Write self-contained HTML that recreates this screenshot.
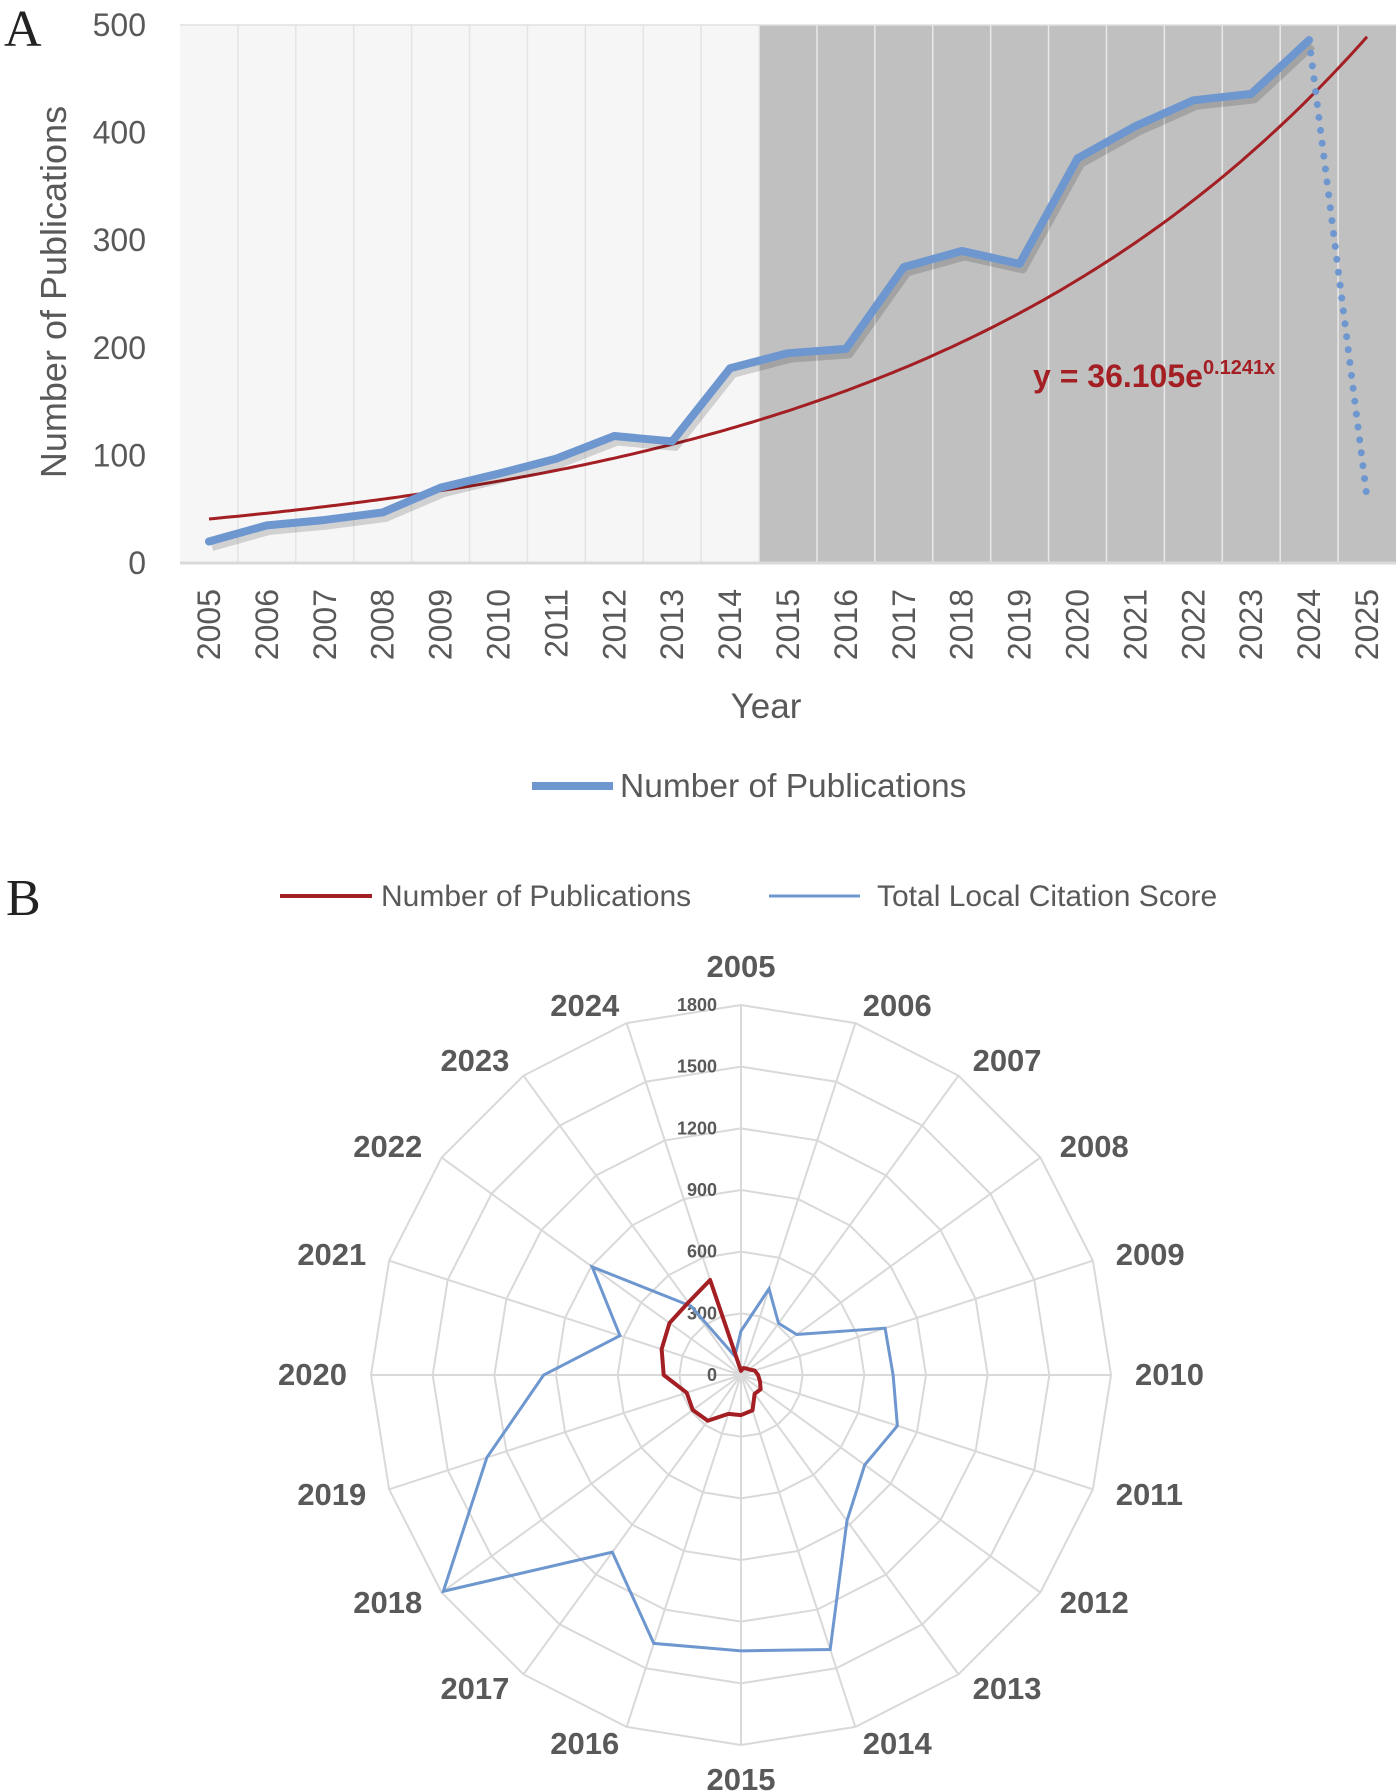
<!DOCTYPE html>
<html><head><meta charset="utf-8"><style>
body{margin:0;background:#fff;}
svg{display:block;font-family:"Liberation Sans",sans-serif;}
</style></head><body>
<svg id="s" width="1399" height="1792" viewBox="0 0 1399 1792" xmlns="http://www.w3.org/2000/svg">
<text x="4" y="46" font-family="Liberation Serif" font-size="52" fill="#222">A</text>
<text x="6" y="915" font-family="Liberation Serif" font-size="52" fill="#222">B</text>
<g id="a"></g><g id="b"></g>
</svg>
<script>
const years=["2005","2006","2007","2008","2009","2010","2011","2012","2013","2014","2015","2016","2017","2018","2019","2020","2021","2022","2023","2024","2025"];
const pubs=[20,35,40,47,70,83,97,118,113,181,195,199,275,290,278,376,406,430,436,486];
const forecast2025=60;
const yTicks=[0,100,200,300,400,500];
const trendA=36.105, trendB=0.1241;
const radarYears=["2005","2006","2007","2008","2009","2010","2011","2012","2013","2014","2015","2016","2017","2018","2019","2020","2021","2022","2023","2024"];
const tlcs=[214,441,311,335,737,740,800,744,877,1404,1342,1373,1065,1790,1300,960,619,895,414,96];
const rTicks=[0,300,600,900,1200,1500,1800];
const NS="http://www.w3.org/2000/svg";
function mk(p,t,a,txt){const e=document.createElementNS(NS,t);for(const k in a)e.setAttribute(k,a[k]);if(txt!==undefined)e.textContent=txt;p.appendChild(e);return e;}
// Chart A
const A=document.getElementById('a');
const L=180,R=1396,T=25,B=563,n=years.length,cw=(R-L)/n;
const xA=i=>L+cw*(i+0.5), yA=v=>B-(v/500)*(B-T);
let e=mk(A,'rect',{x:L,y:T,width:cw*10,height:B-T,fill:'#f7f6f7'});

e=mk(A,'rect',{x:L+cw*10,y:T,width:R-(L+cw*10),height:B-T,fill:'#c0c0c0'});

for(let i=1;i<n;i++){e=mk(A,'line',{x1:L+cw*i,x2:L+cw*i,y1:T,y2:B,stroke:i<10?'#e4e4e4':'#e8e8e8','stroke-width':1.5});
}
e=mk(A,'line',{x1:L,x2:R,y1:T,y2:T,stroke:'#e0e0e0','stroke-width':1.5});

e=mk(A,'line',{x1:L,x2:R,y1:B,y2:B,stroke:'#d9d9d9','stroke-width':3});

yTicks.forEach(v=>{e=mk(A,'text',{x:146,y:yA(v)+11,'text-anchor':'end','font-size':32,fill:'#595959'},String(v));
});
years.forEach((y,i)=>{e=mk(A,'text',{x:0,y:0,transform:`translate(${xA(i)+11},589) rotate(-90)`,'text-anchor':'end','font-size':32,fill:'#595959'},y);
});
e=mk(A,'text',{x:0,y:0,transform:'translate(66,292) rotate(-90)','text-anchor':'middle','font-size':36,fill:'#595959'},'Number of Publications');

e=mk(A,'text',{x:766,y:718,'text-anchor':'middle','font-size':35,fill:'#595959'},'Year');

let tp='';for(let k=0;k<=200;k++){const xx=1+k*(n-1)/200;const px=xA(xx-1);tp+=(k?'L':'M')+px.toFixed(1)+','+yA(trendA*Math.exp(trendB*xx)).toFixed(1);}
e=mk(A,'path',{d:tp,fill:'none',stroke:'#a31f24','stroke-width':3});

e=mk(A,'polyline',{points:pubs.map((v,i)=>(xA(i)+3)+','+(yA(v)+5)).join(' '),fill:'none',stroke:'rgba(0,0,0,0.15)','stroke-width':9,'stroke-linejoin':'round'});

e=mk(A,'polyline',{points:pubs.map((v,i)=>xA(i)+','+yA(v)).join(' '),fill:'none',stroke:'#6e97cf','stroke-width':8,'stroke-linejoin':'round','stroke-linecap':'round'});

const li=pubs.length-1;
e=mk(A,'line',{x1:xA(li),y1:yA(pubs[li]),x2:xA(li+1),y2:yA(forecast2025),stroke:'#6e97cf','stroke-width':7,'stroke-dasharray':'0 13','stroke-linecap':'round'});

e=mk(A,'text',{x:1033,y:387,'font-size':32,'font-weight':'bold',fill:'#a31f24'});

e.innerHTML='y = 36.105e<tspan font-size="20" dy="-13">0.1241x</tspan>';
e=mk(A,'line',{x1:532,x2:613,y1:786,y2:786,stroke:'#6e97cf','stroke-width':8});

e=mk(A,'text',{x:620,y:797,'font-size':33.5,fill:'#595959'},'Number of Publications');

// Chart B
const Bg=document.getElementById('b');
const cx=741,cy=1375,Rr=370,m=radarYears.length;
const ang=i=>-Math.PI/2+2*Math.PI*i/m;
const rr=v=>v/1800*Rr;
const P=(i,v)=>[cx+rr(v)*Math.cos(ang(i)),cy+rr(v)*Math.sin(ang(i))];
rTicks.slice(1).forEach(v=>{e=mk(Bg,'polygon',{points:radarYears.map((_,i)=>P(i,v).join(',')).join(' '),fill:'none',stroke:'#d9d9d9','stroke-width':2});
});
radarYears.forEach((y,i)=>{const p=P(i,1800);e=mk(Bg,'line',{x1:cx,y1:cy,x2:p[0],y2:p[1],stroke:'#d9d9d9','stroke-width':2});

const c=Math.cos(ang(i)),s=Math.sin(ang(i));const q=P(i,1800*(Rr+24)/Rr);
const anc=c>0.1?'start':(c<-0.1?'end':'middle');
const dy=anc==='middle'?(s<0?-4:21):(10-6*s);
e=mk(Bg,'text',{x:q[0],y:q[1]+dy,'text-anchor':anc,'font-size':31,'font-weight':'bold',fill:'#595959'},y);
});
rTicks.forEach(v=>{e=mk(Bg,'text',{x:cx-24,y:cy-rr(v)+6,'text-anchor':'end','font-size':18,'font-weight':'bold',fill:'#595959'},String(v));
});
e=mk(Bg,'polygon',{points:tlcs.map((v,i)=>P(i,v).join(',')).join(' '),fill:'none',stroke:'#6e97cf','stroke-width':3});

e=mk(Bg,'polygon',{points:pubs.map((v,i)=>P(i,v).join(',')).join(' '),fill:'none',stroke:'#a31f24','stroke-width':4,'stroke-linejoin':'round'});

e=mk(Bg,'line',{x1:280,x2:372,y1:896,y2:896,stroke:'#a31f24','stroke-width':4});

e=mk(Bg,'text',{x:381,y:906,'font-size':30,fill:'#595959'},'Number of Publications');

e=mk(Bg,'line',{x1:769,x2:860,y1:896,y2:896,stroke:'#6e97cf','stroke-width':3});

e=mk(Bg,'text',{x:877,y:906,'font-size':30,fill:'#595959'},'Total Local Citation Score');

</script>
</body></html>
